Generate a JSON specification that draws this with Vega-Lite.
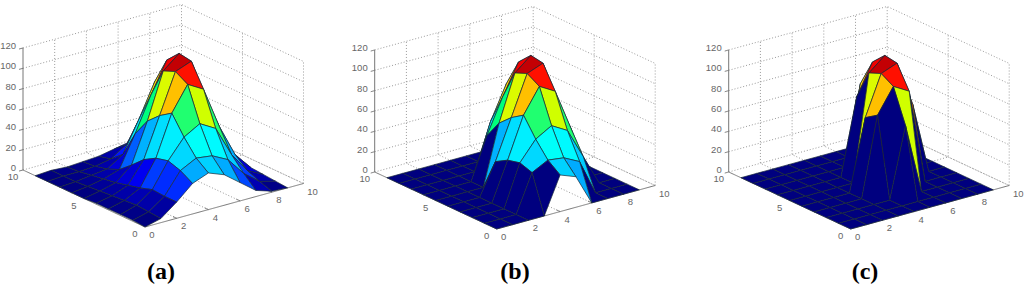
{"$schema":"https://vega.github.io/schema/vega-lite/v6.json","width":1024,"height":288,"autosize":{"type":"fit","contains":"padding"},"padding":0,"background":"white","config":{"view":{"stroke":null}},
"datasets":{"surface":[
{"p":"a","i":9,"j":9,"z":0},{"p":"a","i":9,"j":8,"z":1},{"p":"a","i":9,"j":7,"z":2},{"p":"a","i":9,"j":6,"z":3},{"p":"a","i":9,"j":5,"z":4},{"p":"a","i":9,"j":4,"z":4},{"p":"a","i":9,"j":3,"z":3},{"p":"a","i":9,"j":2,"z":2},{"p":"a","i":9,"j":1,"z":1},{"p":"a","i":9,"j":0,"z":0},
{"p":"a","i":8,"j":9,"z":3},{"p":"a","i":8,"j":8,"z":5},{"p":"a","i":8,"j":7,"z":10},{"p":"a","i":8,"j":6,"z":18},{"p":"a","i":8,"j":5,"z":26},{"p":"a","i":8,"j":4,"z":28},{"p":"a","i":8,"j":3,"z":20},{"p":"a","i":8,"j":2,"z":10},{"p":"a","i":8,"j":1,"z":5},{"p":"a","i":8,"j":0,"z":1},
{"p":"a","i":7,"j":9,"z":7},{"p":"a","i":7,"j":8,"z":20},{"p":"a","i":7,"j":7,"z":45},{"p":"a","i":7,"j":6,"z":52},{"p":"a","i":7,"j":5,"z":68},{"p":"a","i":7,"j":4,"z":70},{"p":"a","i":7,"j":3,"z":52},{"p":"a","i":7,"j":2,"z":30},{"p":"a","i":7,"j":1,"z":17},{"p":"a","i":7,"j":0,"z":6},
{"p":"a","i":6,"j":9,"z":8},{"p":"a","i":6,"j":8,"z":28},{"p":"a","i":6,"j":7,"z":78},{"p":"a","i":6,"j":6,"z":105},{"p":"a","i":6,"j":5,"z":117},{"p":"a","i":6,"j":4,"z":115},{"p":"a","i":6,"j":3,"z":93},{"p":"a","i":6,"j":2,"z":60},{"p":"a","i":6,"j":1,"z":35},{"p":"a","i":6,"j":0,"z":18},
{"p":"a","i":5,"j":9,"z":5},{"p":"a","i":5,"j":8,"z":15},{"p":"a","i":5,"j":7,"z":45},{"p":"a","i":5,"j":6,"z":75},{"p":"a","i":5,"j":5,"z":104},{"p":"a","i":5,"j":4,"z":109},{"p":"a","i":5,"j":3,"z":102},{"p":"a","i":5,"j":2,"z":69},{"p":"a","i":5,"j":1,"z":43},{"p":"a","i":5,"j":0,"z":30},
{"p":"a","i":4,"j":9,"z":2},{"p":"a","i":4,"j":8,"z":5},{"p":"a","i":4,"j":7,"z":15},{"p":"a","i":4,"j":6,"z":41},{"p":"a","i":4,"j":5,"z":59},{"p":"a","i":4,"j":4,"z":70},{"p":"a","i":4,"j":3,"z":78},{"p":"a","i":4,"j":2,"z":60},{"p":"a","i":4,"j":1,"z":45},{"p":"a","i":4,"j":0,"z":36},
{"p":"a","i":3,"j":9,"z":1},{"p":"a","i":3,"j":8,"z":2},{"p":"a","i":3,"j":7,"z":5},{"p":"a","i":3,"j":6,"z":10},{"p":"a","i":3,"j":5,"z":20},{"p":"a","i":3,"j":4,"z":31},{"p":"a","i":3,"j":3,"z":38},{"p":"a","i":3,"j":2,"z":41},{"p":"a","i":3,"j":1,"z":37},{"p":"a","i":3,"j":0,"z":30},
{"p":"a","i":2,"j":9,"z":0},{"p":"a","i":2,"j":8,"z":1},{"p":"a","i":2,"j":7,"z":3},{"p":"a","i":2,"j":6,"z":5},{"p":"a","i":2,"j":5,"z":7},{"p":"a","i":2,"j":4,"z":10},{"p":"a","i":2,"j":3,"z":13},{"p":"a","i":2,"j":2,"z":17},{"p":"a","i":2,"j":1,"z":16},{"p":"a","i":2,"j":0,"z":16},
{"p":"a","i":1,"j":9,"z":1},{"p":"a","i":1,"j":8,"z":1},{"p":"a","i":1,"j":7,"z":1},{"p":"a","i":1,"j":6,"z":2},{"p":"a","i":1,"j":5,"z":3},{"p":"a","i":1,"j":4,"z":4},{"p":"a","i":1,"j":3,"z":5},{"p":"a","i":1,"j":2,"z":6},{"p":"a","i":1,"j":1,"z":5},{"p":"a","i":1,"j":0,"z":4},
{"p":"a","i":0,"j":9,"z":0},{"p":"a","i":0,"j":8,"z":0},{"p":"a","i":0,"j":7,"z":0},{"p":"a","i":0,"j":6,"z":0},{"p":"a","i":0,"j":5,"z":0},{"p":"a","i":0,"j":4,"z":1},{"p":"a","i":0,"j":3,"z":1},{"p":"a","i":0,"j":2,"z":1},{"p":"a","i":0,"j":1,"z":1},{"p":"a","i":0,"j":0,"z":0},
{"p":"b","i":9,"j":9,"z":0},{"p":"b","i":9,"j":8,"z":0},{"p":"b","i":9,"j":7,"z":0},{"p":"b","i":9,"j":6,"z":0},{"p":"b","i":9,"j":5,"z":0},{"p":"b","i":9,"j":4,"z":0},{"p":"b","i":9,"j":3,"z":0},{"p":"b","i":9,"j":2,"z":0},{"p":"b","i":9,"j":1,"z":0},{"p":"b","i":9,"j":0,"z":0},
{"p":"b","i":8,"j":9,"z":0},{"p":"b","i":8,"j":8,"z":0},{"p":"b","i":8,"j":7,"z":0},{"p":"b","i":8,"j":6,"z":0},{"p":"b","i":8,"j":5,"z":0},{"p":"b","i":8,"j":4,"z":0},{"p":"b","i":8,"j":3,"z":0},{"p":"b","i":8,"j":2,"z":0},{"p":"b","i":8,"j":1,"z":0},{"p":"b","i":8,"j":0,"z":0},
{"p":"b","i":7,"j":9,"z":0},{"p":"b","i":7,"j":8,"z":0},{"p":"b","i":7,"j":7,"z":45},{"p":"b","i":7,"j":6,"z":52},{"p":"b","i":7,"j":5,"z":68},{"p":"b","i":7,"j":4,"z":70},{"p":"b","i":7,"j":3,"z":52},{"p":"b","i":7,"j":2,"z":30},{"p":"b","i":7,"j":1,"z":0},{"p":"b","i":7,"j":0,"z":0},
{"p":"b","i":6,"j":9,"z":0},{"p":"b","i":6,"j":8,"z":0},{"p":"b","i":6,"j":7,"z":78},{"p":"b","i":6,"j":6,"z":105},{"p":"b","i":6,"j":5,"z":117},{"p":"b","i":6,"j":4,"z":115},{"p":"b","i":6,"j":3,"z":93},{"p":"b","i":6,"j":2,"z":60},{"p":"b","i":6,"j":1,"z":35},{"p":"b","i":6,"j":0,"z":0},
{"p":"b","i":5,"j":9,"z":0},{"p":"b","i":5,"j":8,"z":0},{"p":"b","i":5,"j":7,"z":45},{"p":"b","i":5,"j":6,"z":75},{"p":"b","i":5,"j":5,"z":104},{"p":"b","i":5,"j":4,"z":109},{"p":"b","i":5,"j":3,"z":102},{"p":"b","i":5,"j":2,"z":69},{"p":"b","i":5,"j":1,"z":43},{"p":"b","i":5,"j":0,"z":30},
{"p":"b","i":4,"j":9,"z":0},{"p":"b","i":4,"j":8,"z":0},{"p":"b","i":4,"j":7,"z":0},{"p":"b","i":4,"j":6,"z":41},{"p":"b","i":4,"j":5,"z":59},{"p":"b","i":4,"j":4,"z":70},{"p":"b","i":4,"j":3,"z":78},{"p":"b","i":4,"j":2,"z":60},{"p":"b","i":4,"j":1,"z":45},{"p":"b","i":4,"j":0,"z":36},
{"p":"b","i":3,"j":9,"z":0},{"p":"b","i":3,"j":8,"z":0},{"p":"b","i":3,"j":7,"z":0},{"p":"b","i":3,"j":6,"z":0},{"p":"b","i":3,"j":5,"z":0},{"p":"b","i":3,"j":4,"z":31},{"p":"b","i":3,"j":3,"z":38},{"p":"b","i":3,"j":2,"z":41},{"p":"b","i":3,"j":1,"z":37},{"p":"b","i":3,"j":0,"z":0},
{"p":"b","i":2,"j":9,"z":0},{"p":"b","i":2,"j":8,"z":0},{"p":"b","i":2,"j":7,"z":0},{"p":"b","i":2,"j":6,"z":0},{"p":"b","i":2,"j":5,"z":0},{"p":"b","i":2,"j":4,"z":0},{"p":"b","i":2,"j":3,"z":0},{"p":"b","i":2,"j":2,"z":0},{"p":"b","i":2,"j":1,"z":0},{"p":"b","i":2,"j":0,"z":0},
{"p":"b","i":1,"j":9,"z":0},{"p":"b","i":1,"j":8,"z":0},{"p":"b","i":1,"j":7,"z":0},{"p":"b","i":1,"j":6,"z":0},{"p":"b","i":1,"j":5,"z":0},{"p":"b","i":1,"j":4,"z":0},{"p":"b","i":1,"j":3,"z":0},{"p":"b","i":1,"j":2,"z":0},{"p":"b","i":1,"j":1,"z":0},{"p":"b","i":1,"j":0,"z":0},
{"p":"b","i":0,"j":9,"z":0},{"p":"b","i":0,"j":8,"z":0},{"p":"b","i":0,"j":7,"z":0},{"p":"b","i":0,"j":6,"z":0},{"p":"b","i":0,"j":5,"z":0},{"p":"b","i":0,"j":4,"z":0},{"p":"b","i":0,"j":3,"z":0},{"p":"b","i":0,"j":2,"z":0},{"p":"b","i":0,"j":1,"z":0},{"p":"b","i":0,"j":0,"z":0},
{"p":"c","i":9,"j":9,"z":0},{"p":"c","i":9,"j":8,"z":0},{"p":"c","i":9,"j":7,"z":0},{"p":"c","i":9,"j":6,"z":0},{"p":"c","i":9,"j":5,"z":0},{"p":"c","i":9,"j":4,"z":0},{"p":"c","i":9,"j":3,"z":0},{"p":"c","i":9,"j":2,"z":0},{"p":"c","i":9,"j":1,"z":0},{"p":"c","i":9,"j":0,"z":0},
{"p":"c","i":8,"j":9,"z":0},{"p":"c","i":8,"j":8,"z":0},{"p":"c","i":8,"j":7,"z":0},{"p":"c","i":8,"j":6,"z":0},{"p":"c","i":8,"j":5,"z":0},{"p":"c","i":8,"j":4,"z":0},{"p":"c","i":8,"j":3,"z":0},{"p":"c","i":8,"j":2,"z":0},{"p":"c","i":8,"j":1,"z":0},{"p":"c","i":8,"j":0,"z":0},
{"p":"c","i":7,"j":9,"z":0},{"p":"c","i":7,"j":8,"z":0},{"p":"c","i":7,"j":7,"z":0},{"p":"c","i":7,"j":6,"z":0},{"p":"c","i":7,"j":5,"z":68},{"p":"c","i":7,"j":4,"z":70},{"p":"c","i":7,"j":3,"z":0},{"p":"c","i":7,"j":2,"z":0},{"p":"c","i":7,"j":1,"z":0},{"p":"c","i":7,"j":0,"z":0},
{"p":"c","i":6,"j":9,"z":0},{"p":"c","i":6,"j":8,"z":0},{"p":"c","i":6,"j":7,"z":78},{"p":"c","i":6,"j":6,"z":105},{"p":"c","i":6,"j":5,"z":117},{"p":"c","i":6,"j":4,"z":115},{"p":"c","i":6,"j":3,"z":93},{"p":"c","i":6,"j":2,"z":0},{"p":"c","i":6,"j":1,"z":0},{"p":"c","i":6,"j":0,"z":0},
{"p":"c","i":5,"j":9,"z":0},{"p":"c","i":5,"j":8,"z":0},{"p":"c","i":5,"j":7,"z":0},{"p":"c","i":5,"j":6,"z":75},{"p":"c","i":5,"j":5,"z":104},{"p":"c","i":5,"j":4,"z":109},{"p":"c","i":5,"j":3,"z":102},{"p":"c","i":5,"j":2,"z":69},{"p":"c","i":5,"j":1,"z":0},{"p":"c","i":5,"j":0,"z":0},
{"p":"c","i":4,"j":9,"z":0},{"p":"c","i":4,"j":8,"z":0},{"p":"c","i":4,"j":7,"z":0},{"p":"c","i":4,"j":6,"z":0},{"p":"c","i":4,"j":5,"z":0},{"p":"c","i":4,"j":4,"z":70},{"p":"c","i":4,"j":3,"z":78},{"p":"c","i":4,"j":2,"z":0},{"p":"c","i":4,"j":1,"z":0},{"p":"c","i":4,"j":0,"z":0},
{"p":"c","i":3,"j":9,"z":0},{"p":"c","i":3,"j":8,"z":0},{"p":"c","i":3,"j":7,"z":0},{"p":"c","i":3,"j":6,"z":0},{"p":"c","i":3,"j":5,"z":0},{"p":"c","i":3,"j":4,"z":0},{"p":"c","i":3,"j":3,"z":0},{"p":"c","i":3,"j":2,"z":0},{"p":"c","i":3,"j":1,"z":0},{"p":"c","i":3,"j":0,"z":0},
{"p":"c","i":2,"j":9,"z":0},{"p":"c","i":2,"j":8,"z":0},{"p":"c","i":2,"j":7,"z":0},{"p":"c","i":2,"j":6,"z":0},{"p":"c","i":2,"j":5,"z":0},{"p":"c","i":2,"j":4,"z":0},{"p":"c","i":2,"j":3,"z":0},{"p":"c","i":2,"j":2,"z":0},{"p":"c","i":2,"j":1,"z":0},{"p":"c","i":2,"j":0,"z":0},
{"p":"c","i":1,"j":9,"z":0},{"p":"c","i":1,"j":8,"z":0},{"p":"c","i":1,"j":7,"z":0},{"p":"c","i":1,"j":6,"z":0},{"p":"c","i":1,"j":5,"z":0},{"p":"c","i":1,"j":4,"z":0},{"p":"c","i":1,"j":3,"z":0},{"p":"c","i":1,"j":2,"z":0},{"p":"c","i":1,"j":1,"z":0},{"p":"c","i":1,"j":0,"z":0},
{"p":"c","i":0,"j":9,"z":0},{"p":"c","i":0,"j":8,"z":0},{"p":"c","i":0,"j":7,"z":0},{"p":"c","i":0,"j":6,"z":0},{"p":"c","i":0,"j":5,"z":0},{"p":"c","i":0,"j":4,"z":0},{"p":"c","i":0,"j":3,"z":0},{"p":"c","i":0,"j":2,"z":0},{"p":"c","i":0,"j":1,"z":0},{"p":"c","i":0,"j":0,"z":0}
],
"frame":[
{"l":"x2","k":"grid","gx":[2,2,2],"gy":[0,10,10],"gz":[0,0,120]},
{"l":"x4","k":"grid","gx":[4,4,4],"gy":[0,10,10],"gz":[0,0,120]},
{"l":"x6","k":"grid","gx":[6,6,6],"gy":[0,10,10],"gz":[0,0,120]},
{"l":"x8","k":"grid","gx":[8,8,8],"gy":[0,10,10],"gz":[0,0,120]},
{"l":"x10","k":"grid","gx":[10,10,10],"gy":[0,10,10],"gz":[0,0,120]},
{"l":"y5","k":"grid","gx":[0,10,10],"gy":[5,5,5],"gz":[0,0,120]},
{"l":"y0","k":"grid","gx":[10,10],"gy":[0,0],"gz":[0,120]},
{"l":"z0","k":"grid","gx":[0,10,10],"gy":[10,10,0],"gz":[0,0,0]},
{"l":"z20","k":"grid","gx":[0,10,10],"gy":[10,10,0],"gz":[20,20,20]},
{"l":"z40","k":"grid","gx":[0,10,10],"gy":[10,10,0],"gz":[40,40,40]},
{"l":"z60","k":"grid","gx":[0,10,10],"gy":[10,10,0],"gz":[60,60,60]},
{"l":"z80","k":"grid","gx":[0,10,10],"gy":[10,10,0],"gz":[80,80,80]},
{"l":"z100","k":"grid","gx":[0,10,10],"gy":[10,10,0],"gz":[100,100,100]},
{"l":"z120","k":"grid","gx":[0,10,10],"gy":[10,10,0],"gz":[120,120,120]},
{"l":"ax","k":"axis","gx":[0,10],"gy":[0,0],"gz":[0,0]},
{"l":"ay","k":"axis","gx":[0,0],"gy":[0,10],"gz":[0,0]},
{"l":"az","k":"axis","gx":[0,0],"gy":[10,10],"gz":[0,120]},
{"l":"tx2","k":"axis","gx":[2,2],"gy":[0,0.3],"gz":[0,0]},
{"l":"tx4","k":"axis","gx":[4,4],"gy":[0,0.3],"gz":[0,0]},
{"l":"tx6","k":"axis","gx":[6,6],"gy":[0,0.3],"gz":[0,0]},
{"l":"tx8","k":"axis","gx":[8,8],"gy":[0,0.3],"gz":[0,0]},
{"l":"ty5","k":"axis","gx":[0,0.3],"gy":[5,5],"gz":[0,0]},
{"l":"tz0","k":"axis","gx":[0,-0.25],"gy":[10,10],"gz":[0,0]},
{"l":"tz20","k":"axis","gx":[0,-0.25],"gy":[10,10],"gz":[20,20]},
{"l":"tz40","k":"axis","gx":[0,-0.25],"gy":[10,10],"gz":[40,40]},
{"l":"tz60","k":"axis","gx":[0,-0.25],"gy":[10,10],"gz":[60,60]},
{"l":"tz80","k":"axis","gx":[0,-0.25],"gy":[10,10],"gz":[80,80]},
{"l":"tz100","k":"axis","gx":[0,-0.25],"gy":[10,10],"gz":[100,100]},
{"l":"tz120","k":"axis","gx":[0,-0.25],"gy":[10,10],"gz":[120,120]}
],
"ticks":[
{"axis":"x","v":0},{"axis":"x","v":2},{"axis":"x","v":4},{"axis":"x","v":6},{"axis":"x","v":8},{"axis":"x","v":10},
{"axis":"y","v":0},{"axis":"y","v":5},{"axis":"y","v":10},
{"axis":"z","v":0},{"axis":"z","v":20},{"axis":"z","v":40},{"axis":"z","v":60},{"axis":"z","v":80},{"axis":"z","v":100},{"axis":"z","v":120}
],
"captions":[{"p":"a","t":"(a)"},{"p":"b","t":"(b)"},{"p":"c","t":"(c)"}]
},
"layer":[
{"data":{"name":"frame"},
"transform":[
{"calculate":"['a','b','c']","as":"ps"},{"flatten":["ps"],"as":["p"]},
{"calculate":"[0,1,2]","as":"n"},{"flatten":["gx","gy","gz","n"]},
{"filter":"isValid(datum.gx)"},
{"calculate":"datum.p+datum.l","as":"id"},
{"calculate":"({a:145,b:496.7,c:850.7})[datum.p]+15.85*datum.gx-12.2*datum.gy","as":"sx"},
{"calculate":"(datum.p=='a'?227:229)-4.35*datum.gx-5.7*datum.gy-1.017*datum.gz","as":"sy"}],
"mark":{"type":"line","strokeWidth":1,"interpolate":"linear"},
"encoding":{
"x":{"field":"sx","type":"quantitative","scale":{"domain":[0,1024]},"axis":null},
"y":{"field":"sy","type":"quantitative","scale":{"domain":[288,0]},"axis":null},
"detail":{"field":"id"},"order":{"field":"n"},
"stroke":{"field":"k","type":"nominal","legend":null,"scale":{"domain":["grid","axis"],"range":["#9a9a9a","#777777"]}},
"strokeDash":{"field":"k","type":"nominal","legend":null,"scale":{"domain":["grid","axis"],"range":[[1,2],[1,0]]}}}},
{"data":{"name":"surface"},
"transform":[
{"window":[{"op":"lead","field":"z","as":"z01"}],"groupby":["p","i"],"sort":[{"field":"j","order":"ascending"}]},
{"window":[{"op":"lead","field":"z","as":"z10"},{"op":"lead","field":"z01","as":"z11"}],"groupby":["p","j"],"sort":[{"field":"i","order":"ascending"}]},
{"filter":"datum.i<9&&datum.j<9"},
{"calculate":"datum.p+'_'+datum.i+'_'+datum.j","as":"cell"},
{"calculate":"[datum.i,datum.i+1,datum.i+1,datum.i,datum.i]","as":"gx"},
{"calculate":"[datum.j,datum.j,datum.j+1,datum.j+1,datum.j]","as":"gy"},
{"calculate":"[datum.z,datum.z10,datum.z11,datum.z01,datum.z]","as":"gz"},
{"calculate":"[0,1,2,3,4]","as":"n"},
{"flatten":["gx","gy","gz","n"]},
{"calculate":"({a:145,b:496.7,c:850.7})[datum.p]+15.85*datum.gx-12.2*datum.gy","as":"sx"},
{"calculate":"(datum.p=='a'?227:229)-4.35*datum.gx-5.7*datum.gy-1.017*datum.gz","as":"sy"}],
"mark":{"type":"line","filled":true,"stroke":"#1a2a3a","strokeWidth":0.7,"strokeJoin":"round"},
"encoding":{
"x":{"field":"sx","type":"quantitative","scale":{"domain":[0,1024]},"axis":null},
"y":{"field":"sy","type":"quantitative","scale":{"domain":[288,0]},"axis":null},
"detail":{"field":"cell"},"order":{"field":"n"},
"fill":{"field":"z","type":"quantitative","legend":null,"scale":{"domain":[0,14.6,43.9,60,69,74,78,102.4,117],"range":["#00007f","#0000ff","#00ffff","#20ff70","#d0ff00","#ffe800","#ffc000","#ff0000","#7f0000"]}}}},
{"data":{"name":"ticks"},
"transform":[
{"filter":"datum.axis!='z'"},
{"calculate":"['a','b','c']","as":"ps"},{"flatten":["ps"],"as":["p"]},
{"calculate":"({a:145,b:496.7,c:850.7})[datum.p]+(datum.axis=='x'?15.85*datum.v+(datum.v==10?9:7):-12.2*datum.v-10)","as":"sx"},
{"calculate":"(datum.p=='a'?227:229)+(datum.axis=='x'?-4.35*datum.v+8:-5.7*datum.v+7)","as":"sy"}],
"mark":{"type":"text","font":"Liberation Sans","fontSize":9.5,"fill":"#666666","align":"center","baseline":"middle"},
"encoding":{
"x":{"field":"sx","type":"quantitative","scale":{"domain":[0,1024]},"axis":null},
"y":{"field":"sy","type":"quantitative","scale":{"domain":[288,0]},"axis":null},
"text":{"field":"v","type":"quantitative","format":"d"}}},
{"data":{"name":"ticks"},
"transform":[
{"filter":"datum.axis=='z'"},
{"calculate":"['a','b','c']","as":"ps"},{"flatten":["ps"],"as":["p"]},
{"calculate":"({a:145,b:496.7,c:850.7})[datum.p]-122-7","as":"sx"},
{"calculate":"(datum.p=='a'?227:229)-57-1.017*datum.v-2","as":"sy"}],
"mark":{"type":"text","font":"Liberation Sans","fontSize":9.5,"fill":"#666666","align":"right","baseline":"middle"},
"encoding":{
"x":{"field":"sx","type":"quantitative","scale":{"domain":[0,1024]},"axis":null},
"y":{"field":"sy","type":"quantitative","scale":{"domain":[288,0]},"axis":null},
"text":{"field":"v","type":"quantitative","format":"d"}}},
{"data":{"name":"captions"},
"transform":[{"calculate":"({a:161,b:515,c:865})[datum.p]","as":"sx"},{"calculate":"272","as":"sy"}],
"mark":{"type":"text","font":"Liberation Serif","fontWeight":"bold","fontSize":24,"fill":"#000000","align":"center","baseline":"middle"},
"encoding":{
"x":{"field":"sx","type":"quantitative","scale":{"domain":[0,1024]},"axis":null},
"y":{"field":"sy","type":"quantitative","scale":{"domain":[288,0]},"axis":null},
"text":{"field":"t"}}}
]}
